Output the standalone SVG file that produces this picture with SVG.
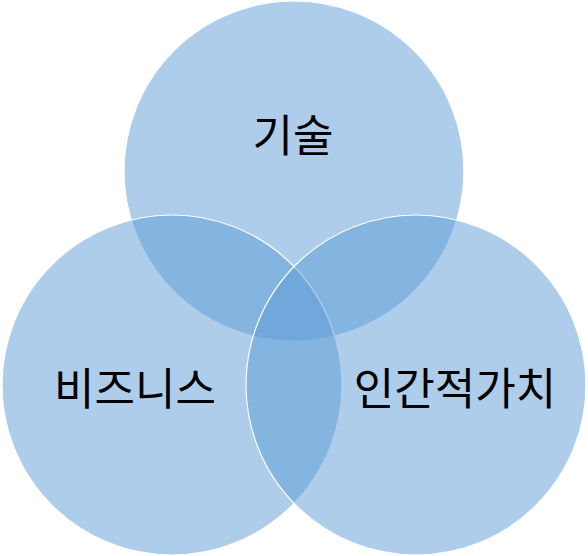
<svg xmlns="http://www.w3.org/2000/svg" width="588" height="556" viewBox="0 0 588 556">
<style>
.c{fill:#5B9BD5;fill-opacity:0.5;stroke:#FFFFFF;stroke-width:1.2}
.t{font-family:"Noto Sans CJK KR","Malgun Gothic",sans-serif;font-size:44px;fill:#000000;text-anchor:middle}
</style>
<rect width="588" height="556" fill="#FFFFFF"/>
<g id="node-tech"><circle class="c" cx="294" cy="171" r="170"/></g>
<g id="node-business"><circle class="c" cx="172" cy="385" r="170"/></g>
<g id="node-human"><circle class="c" cx="416" cy="385" r="170"/></g>
<g id="connectors"></g>
<g id="labels">
<text class="t" x="293" y="152">기술</text>
<text class="t" x="135" y="405">비즈니스</text>
<text class="t" x="455" y="405">인간적가치</text>
</g>
</svg>
